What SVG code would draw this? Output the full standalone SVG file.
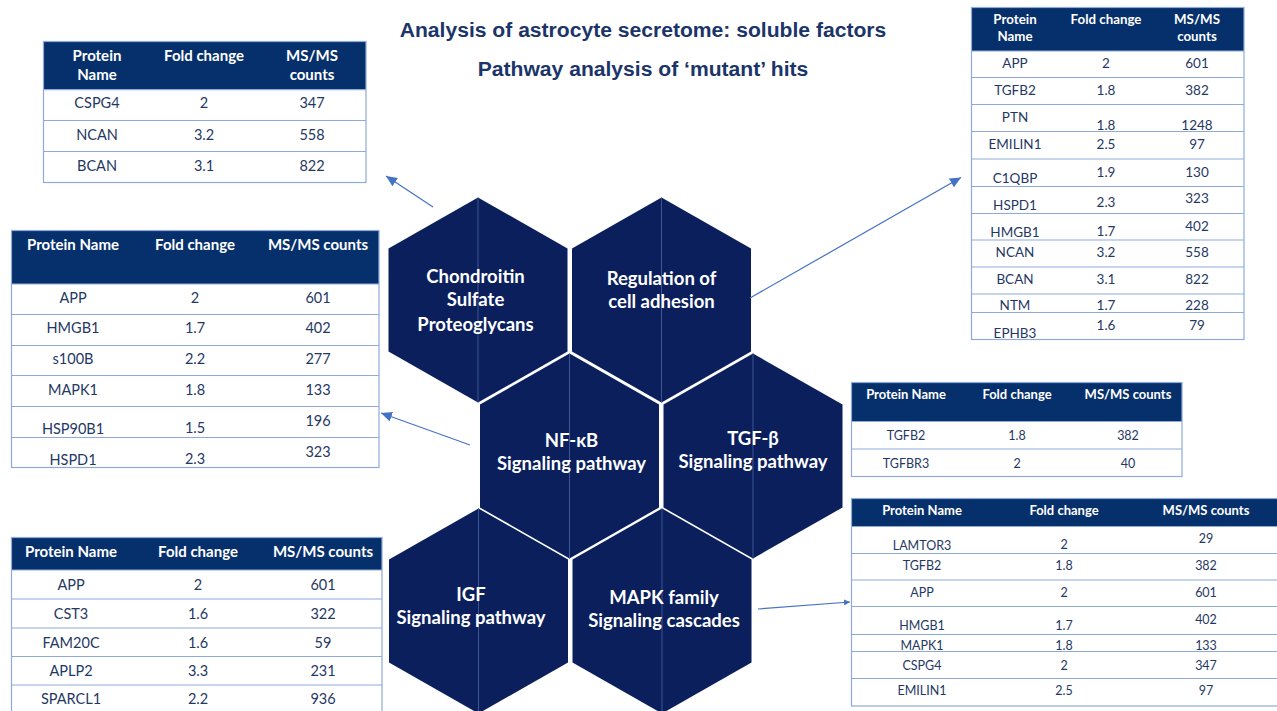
<svg xmlns="http://www.w3.org/2000/svg" width="1277" height="711" viewBox="0 0 1277 711">
  <style>
    .bg { fill: #ffffff; }
    .title { font-family: "Liberation Sans", Arial, sans-serif; font-weight: bold; font-size: 21.1px; fill: #1b3569; text-anchor: middle; }
    .hex { fill: #0b1f5d; }
    .hexline { stroke: #3b5694; stroke-width: 1; }
    .ht { font-family: Lato, "Open Sans", sans-serif; font-weight: bold; font-size: 18.5px; fill: #ffffff; text-anchor: middle; }
    .hdr { fill: #06306c; }
    .frame { fill: none; stroke: #8eaadb; stroke-width: 1.2; }
    .rule { stroke: #8eaadb; stroke-width: 1.2; }
    .th { font-family: Lato, "Open Sans", sans-serif; font-weight: bold; fill: #ffffff; text-anchor: middle; }
    .td { font-family: Lato, "Open Sans", sans-serif; fill: #1f3864; text-anchor: middle; }
    .conn { stroke: #4472c4; stroke-width: 1.2; fill: none; }
    .big .th { font-size: 15px; }
    .big .td { font-size: 14.5px; }
    .mid .th { font-size: 13.3px; }
    .mid .td { font-size: 13.5px; }
    .small .th { font-size: 13px; }
    .small .td { font-size: 12.5px; }
  </style>
  <defs>
    <polygon id="hexShape" points="0,-102.5 89.5,-51.5 89.5,51.5 0,102.5 -89.5,51.5 -89.5,-51.5"/>
    <marker id="arrow" markerUnits="userSpaceOnUse" markerWidth="12" markerHeight="10" refX="11" refY="5" orient="auto">
      <path d="M0,0 L11,5 L0,10 z" fill="#4472c4"/>
    </marker>
    <marker id="arrowSmall" markerUnits="userSpaceOnUse" markerWidth="7" markerHeight="6" refX="6" refY="3" orient="auto">
      <path d="M0,0 L6,3 L0,6 z" fill="#4472c4"/>
    </marker>
  </defs>

  <rect class="bg" x="0" y="0" width="1277" height="711"/>

  <!-- Heading -->
  <g id="heading">
    <text class="title" x="643" y="37">Analysis of astrocyte secretome: soluble factors</text>
    <text class="title" x="643" y="76">Pathway analysis of ‘mutant’ hits</text>
  </g>

  <!-- Honeycomb of pathway categories -->
  <g id="hex-cspg" transform="translate(478,300)">
    <use href="#hexShape" class="hex"/>
    <line class="hexline" x1="0" y1="-102.5" x2="0" y2="102.5"/>
    <text class="ht" x="-2.5" y="-17">Chondroitin</text>
    <text class="ht" x="-2.5" y="6">Sulfate</text>
    <text class="ht" x="-2.5" y="31">Proteoglycans</text>
  </g>
  <g id="hex-adhesion" transform="translate(661.5,300)">
    <use href="#hexShape" class="hex"/>
    <line class="hexline" x1="0" y1="-102.5" x2="0" y2="102.5"/>
    <text class="ht" x="0" y="-15">Regulation of</text>
    <text class="ht" x="0" y="7.5">cell adhesion</text>
  </g>
  <g id="hex-nfkb" transform="translate(569.5,456)">
    <use href="#hexShape" class="hex"/>
    <line class="hexline" x1="0" y1="-102.5" x2="0" y2="102.5"/>
    <text class="ht" x="2" y="-9.5">NF-κB</text>
    <text class="ht" x="2" y="14">Signaling pathway</text>
  </g>
  <g id="hex-tgf" transform="translate(753,456)">
    <use href="#hexShape" class="hex"/>
    <line class="hexline" x1="0" y1="-102.5" x2="0" y2="102.5"/>
    <text class="ht" x="0" y="-11">TGF-β</text>
    <text class="ht" x="0" y="12">Signaling pathway</text>
  </g>
  <g id="hex-igf" transform="translate(478.5,611)">
    <use href="#hexShape" class="hex"/>
    <line class="hexline" x1="0" y1="-102.5" x2="0" y2="102.5"/>
    <text class="ht" x="-7.5" y="-10">IGF</text>
    <text class="ht" x="-7.5" y="13">Signaling pathway</text>
  </g>
  <g id="hex-mapk" transform="translate(662,611)">
    <use href="#hexShape" class="hex"/>
    <line class="hexline" x1="0" y1="-102.5" x2="0" y2="102.5"/>
    <text class="ht" x="2" y="-7">MAPK family</text>
    <text class="ht" x="2" y="16">Signaling cascades</text>
  </g>

  <!-- Protein tables -->
  <g id="table-cspg" class="big">
    <rect class="hdr" x="43.5" y="41.5" width="322.5" height="48.2"/>
    <rect class="frame" x="43.5" y="41.5" width="322.5" height="141"/>
    <line class="rule" x1="43.5" y1="89.7" x2="366" y2="89.7"/>
    <line class="rule" x1="43.5" y1="120.5" x2="366" y2="120.5"/>
    <line class="rule" x1="43.5" y1="151.5" x2="366" y2="151.5"/>
    <text class="th" x="97" y="61">Protein</text>
    <text class="th" x="97" y="80">Name</text>
    <text class="th" x="204" y="61">Fold change</text>
    <text class="th" x="312" y="61">MS/MS</text>
    <text class="th" x="312" y="80">counts</text>
    <text class="td" x="97" y="108">CSPG4</text><text class="td" x="204" y="108">2</text><text class="td" x="312" y="108">347</text>
    <text class="td" x="97" y="139.5">NCAN</text><text class="td" x="204" y="139.5">3.2</text><text class="td" x="312" y="139.5">558</text>
    <text class="td" x="97" y="170.5">BCAN</text><text class="td" x="204" y="170.5">3.1</text><text class="td" x="312" y="170.5">822</text>
  </g>

  <g id="table-adhesion" class="mid">
    <rect class="hdr" x="971.5" y="7.5" width="272.5" height="43.5"/>
    <rect class="frame" x="971.5" y="7.5" width="272.5" height="332"/>
    <line class="rule" x1="971.5" y1="51" x2="1244" y2="51"/>
    <line class="rule" x1="971.5" y1="77.5" x2="1244" y2="77.5"/>
    <line class="rule" x1="971.5" y1="104.5" x2="1244" y2="104.5"/>
    <line class="rule" x1="971.5" y1="131.5" x2="1244" y2="131.5"/>
    <line class="rule" x1="971.5" y1="159" x2="1244" y2="159"/>
    <line class="rule" x1="971.5" y1="186.5" x2="1244" y2="186.5"/>
    <line class="rule" x1="971.5" y1="213.5" x2="1244" y2="213.5"/>
    <line class="rule" x1="971.5" y1="240" x2="1244" y2="240"/>
    <line class="rule" x1="971.5" y1="267" x2="1244" y2="267"/>
    <line class="rule" x1="971.5" y1="294" x2="1244" y2="294"/>
    <line class="rule" x1="971.5" y1="312.5" x2="1244" y2="312.5"/>
    <text class="th" x="1015" y="23.5">Protein</text>
    <text class="th" x="1015" y="41">Name</text>
    <text class="th" x="1106" y="23.5">Fold change</text>
    <text class="th" x="1197" y="23.5">MS/MS</text>
    <text class="th" x="1197" y="41">counts</text>
    <text class="td" x="1015" y="68">APP</text><text class="td" x="1106" y="68">2</text><text class="td" x="1197" y="68">601</text>
    <text class="td" x="1015" y="95">TGFB2</text><text class="td" x="1106" y="95">1.8</text><text class="td" x="1197" y="95">382</text>
    <text class="td" x="1015" y="121.5">PTN</text><text class="td" x="1106" y="129.5">1.8</text><text class="td" x="1197" y="129.5">1248</text>
    <text class="td" x="1015" y="148.5">EMILIN1</text><text class="td" x="1106" y="148.5">2.5</text><text class="td" x="1197" y="148.5">97</text>
    <text class="td" x="1015" y="183">C1QBP</text><text class="td" x="1106" y="177">1.9</text><text class="td" x="1197" y="177">130</text>
    <text class="td" x="1015" y="209.5">HSPD1</text><text class="td" x="1106" y="207">2.3</text><text class="td" x="1197" y="203">323</text>
    <text class="td" x="1015" y="236.5">HMGB1</text><text class="td" x="1106" y="236">1.7</text><text class="td" x="1197" y="230.5">402</text>
    <text class="td" x="1015" y="256.5">NCAN</text><text class="td" x="1106" y="256.5">3.2</text><text class="td" x="1197" y="256.5">558</text>
    <text class="td" x="1015" y="284">BCAN</text><text class="td" x="1106" y="284">3.1</text><text class="td" x="1197" y="284">822</text>
    <text class="td" x="1015" y="310">NTM</text><text class="td" x="1106" y="310">1.7</text><text class="td" x="1197" y="310">228</text>
    <text class="td" x="1015" y="337.5">EPHB3</text><text class="td" x="1106" y="330">1.6</text><text class="td" x="1197" y="330">79</text>
  </g>

  <g id="table-nfkb" class="big">
    <rect class="hdr" x="11.5" y="230.5" width="367.5" height="53.5"/>
    <rect class="frame" x="11.5" y="230.5" width="367.5" height="237"/>
    <line class="rule" x1="11.5" y1="284" x2="379" y2="284"/>
    <line class="rule" x1="11.5" y1="314.5" x2="379" y2="314.5"/>
    <line class="rule" x1="11.5" y1="345.5" x2="379" y2="345.5"/>
    <line class="rule" x1="11.5" y1="375.5" x2="379" y2="375.5"/>
    <line class="rule" x1="11.5" y1="406.5" x2="379" y2="406.5"/>
    <line class="rule" x1="11.5" y1="437.5" x2="379" y2="437.5"/>
    <text class="th" x="73" y="250">Protein Name</text>
    <text class="th" x="195" y="250">Fold change</text>
    <text class="th" x="318" y="250">MS/MS counts</text>
    <text class="td" x="73" y="303">APP</text><text class="td" x="195" y="303">2</text><text class="td" x="318" y="303">601</text>
    <text class="td" x="73" y="333">HMGB1</text><text class="td" x="195" y="333">1.7</text><text class="td" x="318" y="333">402</text>
    <text class="td" x="73" y="364">s100B</text><text class="td" x="195" y="364">2.2</text><text class="td" x="318" y="364">277</text>
    <text class="td" x="73" y="394.5">MAPK1</text><text class="td" x="195" y="394.5">1.8</text><text class="td" x="318" y="394.5">133</text>
    <text class="td" x="73" y="433.5">HSP90B1</text><text class="td" x="195" y="433">1.5</text><text class="td" x="318" y="426">196</text>
    <text class="td" x="73" y="464.5">HSPD1</text><text class="td" x="195" y="464">2.3</text><text class="td" x="318" y="456.5">323</text>
  </g>

  <g id="table-igf" class="big">
    <rect class="hdr" x="11.5" y="537.5" width="370.5" height="32.5"/>
    <rect class="frame" x="11.5" y="537.5" width="370.5" height="180"/>
    <line class="rule" x1="11.5" y1="570" x2="382" y2="570"/>
    <line class="rule" x1="11.5" y1="599" x2="382" y2="599"/>
    <line class="rule" x1="11.5" y1="628" x2="382" y2="628"/>
    <line class="rule" x1="11.5" y1="656.5" x2="382" y2="656.5"/>
    <line class="rule" x1="11.5" y1="685" x2="382" y2="685"/>
    <text class="th" x="71" y="557">Protein Name</text>
    <text class="th" x="198" y="557">Fold change</text>
    <text class="th" x="323" y="557">MS/MS counts</text>
    <text class="td" x="71" y="590">APP</text><text class="td" x="198" y="590">2</text><text class="td" x="323" y="590">601</text>
    <text class="td" x="71" y="618.5">CST3</text><text class="td" x="198" y="618.5">1.6</text><text class="td" x="323" y="618.5">322</text>
    <text class="td" x="71" y="647.5">FAM20C</text><text class="td" x="198" y="647.5">1.6</text><text class="td" x="323" y="647.5">59</text>
    <text class="td" x="71" y="676">APLP2</text><text class="td" x="198" y="676">3.3</text><text class="td" x="323" y="676">231</text>
    <text class="td" x="71" y="703.5">SPARCL1</text><text class="td" x="198" y="703.5">2.2</text><text class="td" x="323" y="703.5">936</text>
  </g>

  <g id="table-tgf" class="small">
    <rect class="hdr" x="851.5" y="382.5" width="330.5" height="39"/>
    <rect class="frame" x="851.5" y="382.5" width="330.5" height="94"/>
    <line class="rule" x1="851.5" y1="421.5" x2="1182" y2="421.5"/>
    <line class="rule" x1="851.5" y1="449" x2="1182" y2="449"/>
    <text class="th" x="906" y="399">Protein Name</text>
    <text class="th" x="1017" y="399">Fold change</text>
    <text class="th" x="1128" y="399">MS/MS counts</text>
    <text class="td" x="906" y="439.5">TGFB2</text><text class="td" x="1017" y="439.5">1.8</text><text class="td" x="1128" y="439.5">382</text>
    <text class="td" x="906" y="467.5">TGFBR3</text><text class="td" x="1017" y="467.5">2</text><text class="td" x="1128" y="467.5">40</text>
  </g>

  <g id="table-mapk" class="small">
    <rect class="hdr" x="851.5" y="498.5" width="430" height="28"/>
    <rect class="frame" x="851.5" y="498.5" width="430" height="207.5"/>
    <line class="rule" x1="851.5" y1="526.5" x2="1281.5" y2="526.5"/>
    <line class="rule" x1="851.5" y1="553.5" x2="1281.5" y2="553.5"/>
    <line class="rule" x1="851.5" y1="580" x2="1281.5" y2="580"/>
    <line class="rule" x1="851.5" y1="606.5" x2="1281.5" y2="606.5"/>
    <line class="rule" x1="851.5" y1="634.5" x2="1281.5" y2="634.5"/>
    <line class="rule" x1="851.5" y1="651.5" x2="1281.5" y2="651.5"/>
    <line class="rule" x1="851.5" y1="678.5" x2="1281.5" y2="678.5"/>
    <text class="th" x="922" y="515">Protein Name</text>
    <text class="th" x="1064" y="515">Fold change</text>
    <text class="th" x="1206" y="515">MS/MS counts</text>
    <text class="td" x="922" y="550">LAMTOR3</text><text class="td" x="1064" y="548.5">2</text><text class="td" x="1206" y="542.5">29</text>
    <text class="td" x="922" y="570">TGFB2</text><text class="td" x="1064" y="570">1.8</text><text class="td" x="1206" y="570">382</text>
    <text class="td" x="922" y="596.5">APP</text><text class="td" x="1064" y="596.5">2</text><text class="td" x="1206" y="596.5">601</text>
    <text class="td" x="922" y="630">HMGB1</text><text class="td" x="1064" y="630">1.7</text><text class="td" x="1206" y="623.5">402</text>
    <text class="td" x="922" y="650">MAPK1</text><text class="td" x="1064" y="650">1.8</text><text class="td" x="1206" y="650">133</text>
    <text class="td" x="922" y="670">CSPG4</text><text class="td" x="1064" y="670">2</text><text class="td" x="1206" y="670">347</text>
    <text class="td" x="922" y="695">EMILIN1</text><text class="td" x="1064" y="695">2.5</text><text class="td" x="1206" y="695">97</text>
  </g>

  <!-- Arrows from each category to its protein list -->
  <g id="connectors">
    <line class="conn" x1="433" y1="207" x2="386" y2="176" marker-end="url(#arrow)"/>
    <line class="conn" x1="750" y1="298" x2="961" y2="177.5" marker-end="url(#arrow)"/>
    <line class="conn" x1="470" y1="445" x2="381" y2="413" marker-end="url(#arrow)"/>
    <line class="conn" x1="758" y1="609" x2="850" y2="602" marker-end="url(#arrowSmall)"/>
  </g>
</svg>
